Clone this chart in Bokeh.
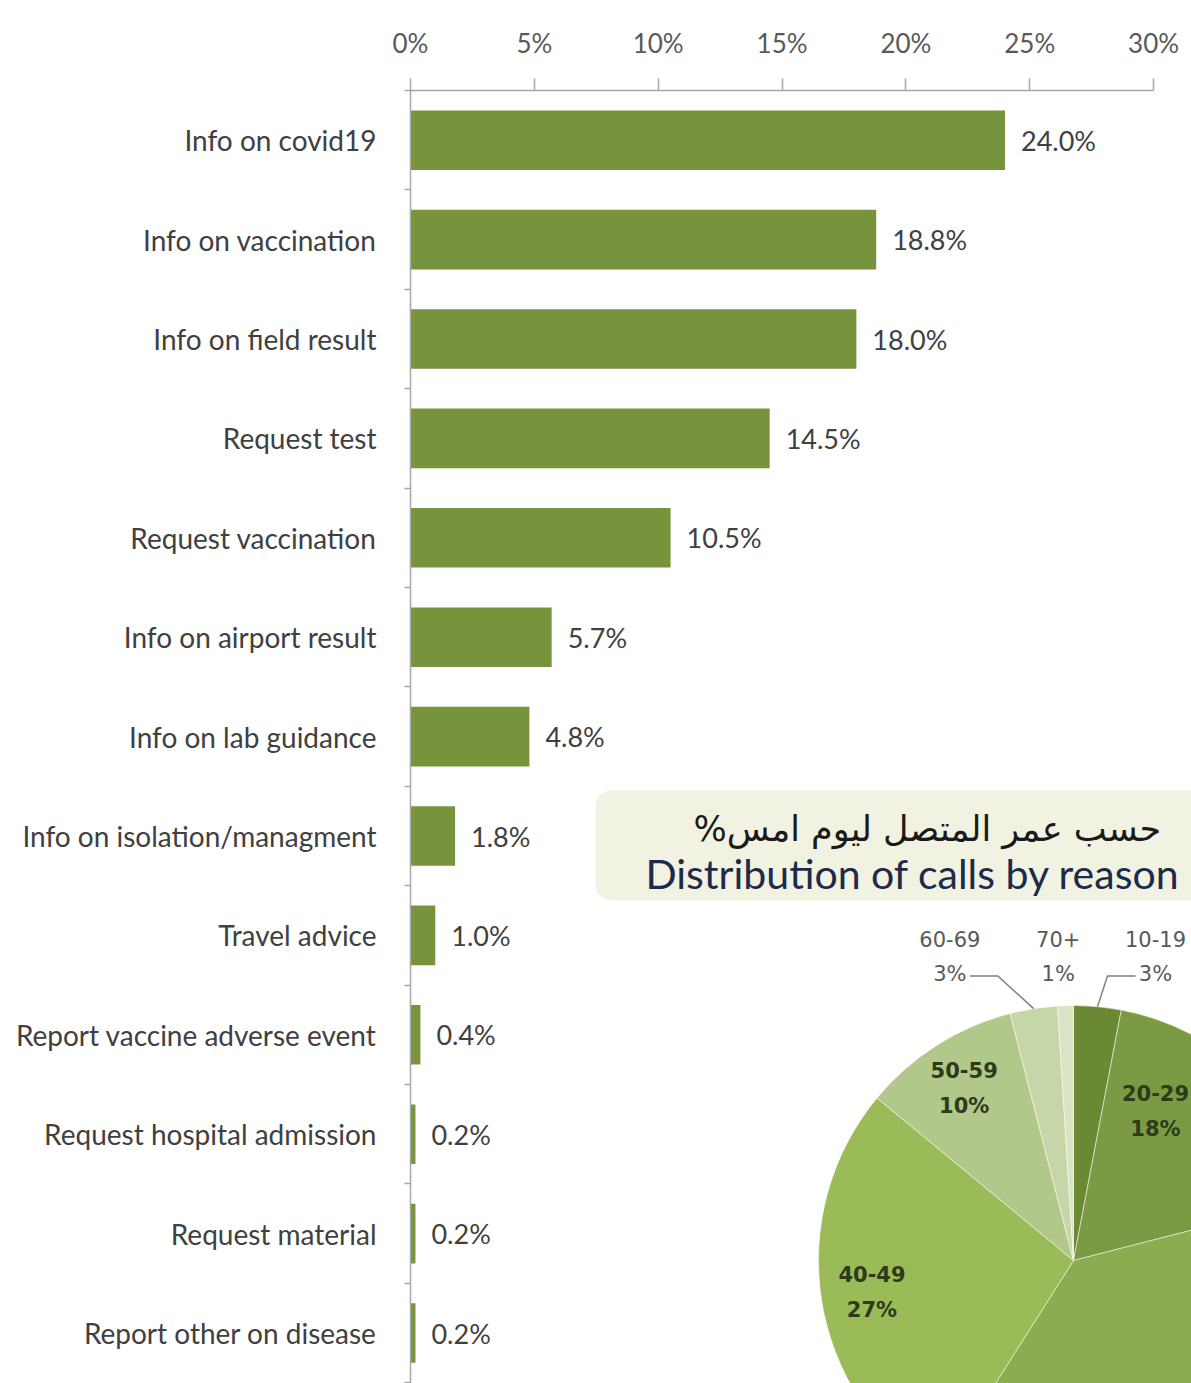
import math
import numpy as np
from bokeh.plotting import figure
from bokeh.models import Range1d, FixedTicker, PrintfTickFormatter
from bokeh.core.properties import value
from bokeh.embed import file_html
from bokeh.resources import INLINE

# ---------------- data ----------------
reasons = [
    "Info on covid19",
    "Info on vaccination",
    "Info on field result",
    "Request test",
    "Request vaccination",
    "Info on airport result",
    "Info on lab guidance",
    "Info on isolation/managment",
    "Travel advice",
    "Report vaccine adverse event",
    "Request hospital admission",
    "Request material",
    "Report other on disease",
]
shares = [24.0, 18.8, 18.0, 14.5, 10.5, 5.7, 4.8, 1.8, 1.0, 0.4, 0.2, 0.2, 0.2]
x_ticks = [0, 5, 10, 15, 20, 25, 30]

age_groups = ["10-19", "20-29", "30-39", "40-49", "50-59", "60-69", "70+"]
age_shares = [3, 18, 38, 27, 10, 3, 1]

title_ar = "حسب عمر المتصل ليوم امس"
title_en = "Distribution of calls by reason"

# ---------------- layout / style ----------------
W, H = 1191, 1383
FL, FT = 410, 90
PX_PER_PCT = 24.77
BAND = 99.4
fw, fh = W - FL, H - FT

BAR_COLOR = "#77933c"
PIE_COLORS = ["#6b8933", "#7c9a44", "#8dab4f", "#9bbb59", "#b2c88a", "#c6d6a8", "#d9e3c6"]
TXT = "#404040"
FONT = "Lato"

n = len(reasons)
centers = [i + 0.5 for i in range(n)]
edges = [float(i) for i in range(n + 1)]

p = figure(width=W, height=H, output_backend="svg", toolbar_location=None,
           x_range=Range1d(0, fw / PX_PER_PCT), y_range=Range1d(fh / BAND, 0),
           x_axis_location="above", y_axis_location="left",
           min_border_left=FL, min_border_top=FT, min_border_right=0, min_border_bottom=0,
           background_fill_color="white", border_fill_color="white",
           outline_line_color=None)
p.extra_x_ranges = {"px": Range1d(0, fw)}
p.extra_y_ranges = {"px": Range1d(-fh, 0)}
p.xgrid.visible = False
p.ygrid.visible = False

# x axis (top)
xa = p.xaxis[0]
xa.ticker = FixedTicker(ticks=x_ticks)
xa.formatter = PrintfTickFormatter(format="%d%%")
xa.bounds = (x_ticks[0], x_ticks[-1])
xa.axis_line_color = "#a6a6a6"
xa.axis_line_width = 1.5
xa.major_tick_line_color = "#a6a6a6"
xa.major_tick_line_width = 1.5
xa.major_tick_out = 12
xa.major_tick_in = 0
xa.minor_tick_line_color = None
xa.major_label_standoff = 20
xa.major_label_text_font = FONT
xa.major_label_text_font_size = "26px"
xa.major_label_text_color = "#595959"

# y axis (left) with category labels, boundary ticks as minor ticks
ya = p.yaxis[0]
ya.ticker = FixedTicker(ticks=centers, minor_ticks=edges)
ya.major_label_overrides = {c: r for c, r in zip(centers, reasons)}
ya.axis_line_color = "#a6a6a6"
ya.axis_line_width = 1.5
ya.major_tick_line_color = None
ya.major_tick_out = 0
ya.major_tick_in = 0
ya.minor_tick_line_color = "#a6a6a6"
ya.minor_tick_line_width = 1.5
ya.minor_tick_out = 6
ya.minor_tick_in = 0
ya.major_label_standoff = 28
ya.major_label_text_font = FONT
ya.major_label_text_font_size = "28px"
ya.major_label_text_color = TXT

# bars
p.hbar(y=centers, left=0, right=shares, height=0.6,
       fill_color=BAR_COLOR, line_color=None)
p.text(x=shares, y=centers, text=[f"{v:.1f}%" for v in shares],
       x_offset=16, text_baseline="middle", text_align="left",
       text_font=value(FONT), text_font_size="27px", text_color=TXT)

# header box of the pie panel (pixel coordinates relative to frame top-left)
p.quad(left=185, right=fw + 60, top=-700, bottom=-810,
       fill_color="#f2f2e2", line_color=None, border_radius=16,
       x_range_name="px", y_range_name="px")
p.text(x=[283], y=[-738], text=["%" + title_ar], text_baseline="middle",
       text_align="left", text_font=value("DejaVu Sans"), text_font_size="35px",
       text_color="#1a1a1a", x_range_name="px", y_range_name="px")
p.text(x=[235], y=[-783], text=[title_en], text_baseline="middle",
       text_align="left", text_font=value(FONT), text_font_size="41px",
       text_color="#1c2b4a", x_range_name="px", y_range_name="px")

# pie
CX, CY, R = 663.0, -1170.0, 255.0
tot = float(sum(age_shares))
cum = np.cumsum([0] + age_shares) / tot * 2 * math.pi
s_cw, e_cw = cum[:-1], cum[1:]
start_angle = math.pi / 2 - e_cw
end_angle = math.pi / 2 - s_cw
p.wedge(x=CX, y=CY, radius=R, start_angle=start_angle, end_angle=end_angle,
        direction="anticlock", fill_color=PIE_COLORS, line_color="white",
        line_alpha=0.5, line_width=1, x_range_name="px", y_range_name="px")

in_x, in_y, in_t = [], [], []
out_x, out_y, out_t = [], [], []
lead_xs, lead_ys = [], []
for g, v, a, b in zip(age_groups, age_shares, s_cw, e_cw):
    m = (a + b) / 2
    if m > math.pi:
        m -= 2 * math.pi
    lbl = f"{g}\n{v}%"
    if v >= 5:
        lx = min(CX + 0.8 * R * math.sin(m), fw - 36)
        ly = CY + 0.8 * R * math.cos(m)
        if ly < -fh:
            continue  # below the visible area
        in_x.append(lx)
        in_y.append(ly)
        in_t.append(lbl)
    else:
        lx = min(CX + R * math.sin(m) * 3.4 + 12, fw - 36)
        ly = CY + 1.19 * R
        out_x.append(lx)
        out_y.append(ly)
        out_t.append(lbl)
        if abs(lx - CX) > 40:
            side = 1 if m > 0 else -1
            ex, ey = CX + R * math.sin(m), CY + R * math.cos(m)
            lead_xs.append([lx - side * 20, lx - side * 48, ex])
            lead_ys.append([ly - 19, ly - 19, ey])

p.multi_line(xs=lead_xs, ys=lead_ys, line_color="#7f7f7f", line_width=1.5,
             x_range_name="px", y_range_name="px")
p.text(x=in_x, y=in_y, text=in_t, text_align="center", text_baseline="middle",
       text_font=value("DejaVu Sans"), text_font_size="21px", text_font_style="bold",
       text_color="#2e3b1a", text_line_height=1.45,
       x_range_name="px", y_range_name="px")
p.text(x=out_x, y=out_y, text=out_t, text_align="center", text_baseline="middle",
       text_font=value("DejaVu Sans"), text_font_size="21px",
       text_color="#595959", text_line_height=1.45,
       x_range_name="px", y_range_name="px")

open("out.html", "w").write(file_html(p, INLINE))
